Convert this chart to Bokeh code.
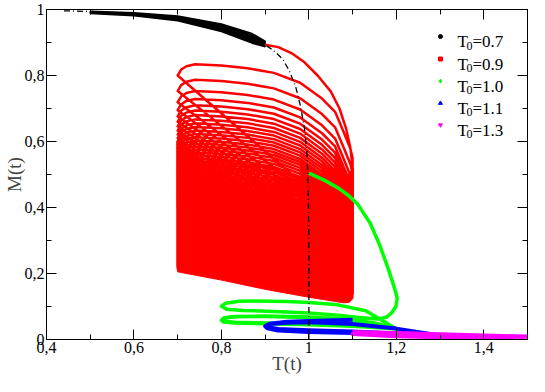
from bokeh.plotting import figure
from bokeh.models import Range1d, FixedTicker, LinearAxis
from bokeh.core.properties import value
from bokeh.embed import file_html
from bokeh.resources import INLINE

# ---------------- axes ----------------
X_TICKS = [0.4, 0.6, 0.8, 1.0, 1.2, 1.4]
X_TICK_LABELS = ["0,4", "0,6", "0,8", "1", "1,2", "1,4"]
X_MINOR = [0.5, 0.7, 0.9, 1.1, 1.3]
Y_TICKS = [0.0, 0.2, 0.4, 0.6, 0.8, 1.0]
Y_TICK_LABELS = ["0", "0,2", "0,4", "0,6", "0,8", "1"]
Y_MINOR = [0.1, 0.3, 0.5, 0.7, 0.9]
X_LABEL = "T(t)"
Y_LABEL = "M(t)"

# ---------------- equilibrium curve (dash-dot) ----------------
EQ_T = [0.44, 0.50, 0.60, 0.70, 0.80, 0.85, 0.90, 0.92, 0.94, 0.955, 0.97, 0.98, 0.99, 0.996, 0.999, 1.000, 1.000]
EQ_M = [0.996, 0.994, 0.988, 0.977, 0.950, 0.928, 0.893, 0.875, 0.850, 0.815, 0.765, 0.712, 0.640, 0.560, 0.420, 0.250, 0.000]

# ---------------- T0 = 0.7 (black band) ----------------
BLACK_UP_T = [0.50, 0.60, 0.70, 0.80, 0.87, 0.90]
BLACK_UP_M = [0.995, 0.990, 0.980, 0.956, 0.927, 0.904]
BLACK_LO_T = [0.90, 0.87, 0.80, 0.70, 0.60, 0.50]
BLACK_LO_M = [0.887, 0.898, 0.933, 0.966, 0.981, 0.988]

# ---------------- T0 = 0.9 (red) ----------------
RED_START_T = [0.900, 0.930, 0.960, 0.990, 1.020, 1.050, 1.070, 1.085, 1.095, 1.100]
RED_START_M = [0.893, 0.886, 0.868, 0.840, 0.800, 0.752, 0.700, 0.640, 0.580, 0.520]
# arc profile (read from the first loop), relative to the arc level at T=0.98
ARC_T = [0.700, 0.708, 0.720, 0.740, 0.800, 0.860, 0.920, 0.980, 1.030, 1.060, 1.080, 1.095, 1.100]
ARC_OFFSET = [0.022, 0.040, 0.050, 0.056, 0.052, 0.044, 0.030, 0.000, -0.048, -0.088, -0.151, -0.200, -0.228]
ARC_LEVELS = [0.778, 0.731, 0.697, 0.673, 0.654, 0.638, 0.624, 0.611, 0.599, 0.588,
              0.577, 0.567, 0.557, 0.547, 0.538, 0.529, 0.520, 0.511, 0.502, 0.493,
              0.485, 0.477, 0.469, 0.461, 0.453, 0.445, 0.437, 0.429, 0.421, 0.413,
              0.405, 0.397, 0.389, 0.381]
RET_M = [0.340, 0.330, 0.320, 0.312, 0.304, 0.297, 0.290, 0.283, 0.276, 0.269,
         0.262, 0.255, 0.248, 0.241, 0.234, 0.227, 0.220, 0.214, 0.208, 0.202,
         0.196, 0.190, 0.185, 0.180, 0.175, 0.170, 0.166, 0.162, 0.158, 0.154,
         0.150, 0.146, 0.142, 0.138]
RED_FILL_T = [0.700, 0.800, 0.900, 1.000, 1.080, 1.093, 1.101, 1.102, 1.102,
              1.090, 1.070, 1.040, 1.000, 0.920, 0.860, 0.800, 0.760, 0.720, 0.705, 0.698, 0.698]
RED_FILL_M = [0.205, 0.180, 0.152, 0.128, 0.111, 0.113, 0.125, 0.300, 0.520,
              0.500, 0.450, 0.400, 0.370, 0.380, 0.400, 0.430, 0.500, 0.580, 0.620, 0.600, 0.220]

# ---------------- T0 = 1.0 (green) ----------------
GREEN_T = [1.000, 1.035, 1.066, 1.090, 1.111, 1.140, 1.162, 1.180, 1.190, 1.198, 1.202, 1.199, 1.190, 1.178,
           1.160, 1.120, 1.060, 1.000, 0.920, 0.850, 0.812, 0.800, 0.810, 0.840, 0.880, 0.950, 1.000, 1.066,
           1.130, 1.167, 1.200, 1.150, 1.100, 1.000, 0.900, 0.830, 0.805, 0.800, 0.805, 0.830, 0.900, 1.000,
           1.100, 1.150, 1.200, 1.150, 1.100, 1.000, 0.900, 0.830, 0.806, 0.801, 0.806, 0.830, 0.900, 1.000,
           1.100, 1.150, 1.195]
GREEN_M = [0.504, 0.483, 0.460, 0.437, 0.411, 0.353, 0.286, 0.220, 0.180, 0.146, 0.125, 0.100, 0.082, 0.068,
           0.062, 0.066, 0.074, 0.080, 0.085, 0.088, 0.092, 0.101, 0.110, 0.116, 0.117, 0.115, 0.112, 0.105,
           0.087, 0.058, 0.032, 0.036, 0.040, 0.045, 0.048, 0.050, 0.053, 0.058, 0.064, 0.069, 0.070, 0.067,
           0.058, 0.048, 0.033, 0.038, 0.042, 0.047, 0.050, 0.052, 0.055, 0.060, 0.066, 0.070, 0.071, 0.068,
           0.060, 0.050, 0.035]

# ---------------- T0 = 1.1 (blue) ----------------
BLUE_T = [1.100, 1.000, 0.950, 0.910, 0.900, 0.905, 0.930, 1.000, 1.100, 1.200, 1.300, 1.200, 1.100,
          1.000, 0.930, 0.905, 0.900, 0.910, 0.950, 1.000, 1.100, 1.200, 1.300, 1.200, 1.100, 1.000,
          0.930, 0.902]
BLUE_M = [0.060, 0.056, 0.054, 0.048, 0.040, 0.034, 0.027, 0.023, 0.020, 0.015, 0.009, 0.016, 0.022,
          0.026, 0.030, 0.035, 0.041, 0.047, 0.051, 0.052, 0.047, 0.033, 0.012, 0.018, 0.024, 0.028,
          0.032, 0.038]

# ---------------- T0 = 1.3 (magenta) ----------------
MAG_T = [1.100, 1.200, 1.300, 1.400, 1.500, 1.400, 1.300, 1.200, 1.100, 1.200, 1.300, 1.400, 1.500]
MAG_M = [0.023, 0.020, 0.016, 0.012, 0.009, 0.008, 0.010, 0.013, 0.017, 0.010, 0.007, 0.005, 0.004]

# ---------------- legend ----------------
LEG_VALUES = ["0.7", "0.9", "1.0", "1.1", "1.3"]
LEG_COLORS = ["black", "red", "#00ff00", "blue", "magenta"]
LEG_MARKERS = ["circle", "square", "diamond", "triangle", "inverted_triangle"]
LEG_X = 1.301
LEG_Y = [0.918, 0.850, 0.783, 0.716, 0.650]

SERIF = "Liberation Serif"

p = figure(width=529, height=376, x_range=Range1d(0.4, 1.5), y_range=Range1d(0, 1),
           output_backend="svg", toolbar_location=None,
           min_border_left=41, min_border_right=2, min_border_top=9, min_border_bottom=30)
p.grid.visible = False
p.outline_line_color = "black"
p.background_fill_color = "white"
p.border_fill_color = "white"


def style_axis(ax, ticks, minor, labels, label_text):
    ax.ticker = FixedTicker(ticks=ticks, minor_ticks=minor)
    if labels is not None:
        ax.major_label_overrides = dict(zip(ticks, labels))
        ax.major_label_text_font = SERIF
        ax.major_label_text_font_size = "16px"
        ax.major_label_text_color = "black"
        ax.major_label_standoff = 2
    else:
        ax.major_label_text_font_size = "1px"
        ax.major_label_text_color = None
        ax.major_label_standoff = 0
    ax.major_tick_in = 10
    ax.major_tick_out = 0
    ax.minor_tick_in = 5
    ax.minor_tick_out = 0
    ax.major_tick_line_color = "black"
    ax.minor_tick_line_color = "black"
    ax.axis_line_color = "black"
    if label_text:
        ax.axis_label = label_text
        ax.axis_label_text_font = SERIF
        ax.axis_label_text_font_style = "normal"
        ax.axis_label_text_font_size = "19px"
        ax.axis_label_standoff = -3


style_axis(p.xaxis[0], X_TICKS, X_MINOR, X_TICK_LABELS, X_LABEL)
style_axis(p.yaxis[0], Y_TICKS, Y_MINOR, Y_TICK_LABELS, Y_LABEL)
top = LinearAxis()
style_axis(top, X_TICKS, X_MINOR, None, None)
p.add_layout(top, "above")
right = LinearAxis()
style_axis(right, Y_TICKS, Y_MINOR, None, None)
p.add_layout(right, "right")

# black band
p.patch(BLACK_UP_T + BLACK_LO_T, BLACK_UP_M + BLACK_LO_M, fill_color="black",
        line_color="black", line_width=1.5)

# red
p.patch(RED_FILL_T, RED_FILL_M, fill_color="red", line_color="red", line_width=1)
rx = list(RED_START_T)
ry = list(RED_START_M)
for k, lvl in enumerate(ARC_LEVELS):
    rx.append(1.1)
    ry.append(RET_M[k])
    for t, off in zip(ARC_T, ARC_OFFSET):
        rx.append(t)
        ry.append(lvl + off)
p.line(rx, ry, line_color="red", line_width=2.5, line_join="round")

# green, blue, magenta
p.line(GREEN_T, GREEN_M, line_color="#00ff00", line_width=3.5, line_join="round")
p.line(BLUE_T, BLUE_M, line_color="blue", line_width=4, line_join="round")
p.line(MAG_T, MAG_M, line_color="magenta", line_width=4, line_join="round")

# equilibrium dash-dot
p.line(EQ_T, EQ_M, line_color="black", line_width=1.3, line_dash="6 3 1 3")

# legend
for val, col, mk, y in zip(LEG_VALUES, LEG_COLORS, LEG_MARKERS, LEG_Y):
    p.scatter([LEG_X], [y], marker=mk, size=4, fill_color=col, line_color=col)
    p.text([LEG_X], [y], text=["T"], x_offset=17, y_offset=5,
           text_font=value(SERIF), text_font_size="17px", text_baseline="alphabetic",
           text_color="black")
    p.text([LEG_X], [y], text=["0"], x_offset=26, y_offset=9,
           text_font=value(SERIF), text_font_size="12px", text_baseline="alphabetic",
           text_color="black")
    p.text([LEG_X], [y], text=["=" + val], x_offset=32, y_offset=5,
           text_font=value(SERIF), text_font_size="17px", text_baseline="alphabetic",
           text_color="black")

open("out.html", "w").write(file_html(p, INLINE))
